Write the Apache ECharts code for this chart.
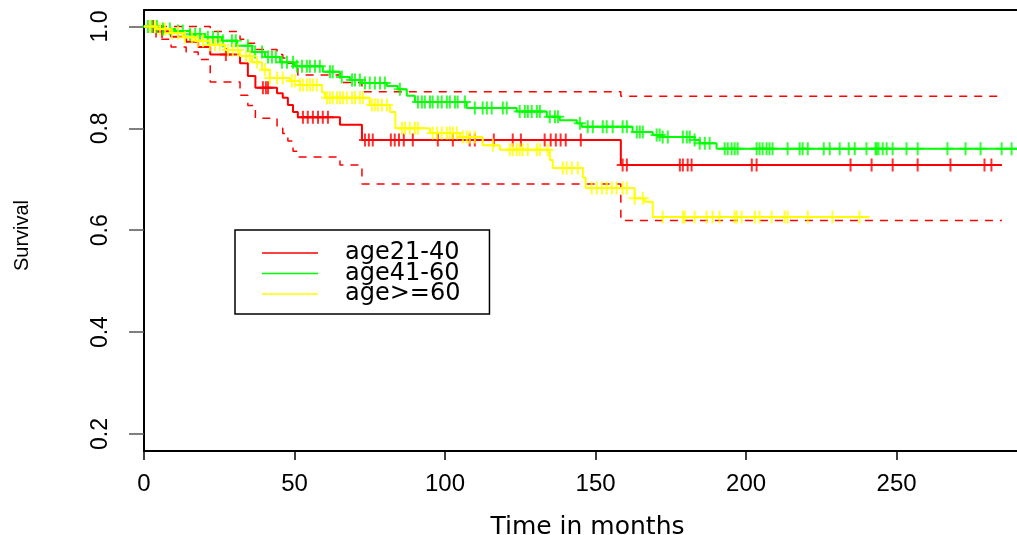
<!DOCTYPE html>
<html>
<head>
<meta charset="utf-8">
<script src="https://cdn.jsdelivr.net/npm/echarts@6/dist/echarts.min.js"></script>
<style>
html,body{margin:0;padding:0;background:#fff;}
#chart{width:1017px;height:535px;}
</style>
</head>
<body>
<div id="chart"></div>
<script>
// ---- data ----
var groupNames = ['age21-40', 'age41-60', 'age>=60'];
var xTicks = [0, 50, 100, 150, 200, 250];
var yTicks = [0.2, 0.4, 0.6, 0.8, 1.0];

// age21-40 (red): step times, survival, and 95% CI
var redTimes = [0, 4, 9, 14, 18, 22, 31.9, 34.5, 37, 44.2, 46.1, 47.8, 49.5, 51.1, 65.1, 72.4, 158.4, 285];
var redSurv  = [1, 0.99, 0.98, 0.97, 0.96, 0.945, 0.928, 0.903, 0.88, 0.869, 0.86, 0.846, 0.832, 0.822, 0.807, 0.777, 0.728, 0.728];
var redUpper = [1, 1, 1, 1, 1, 0.99, 0.975, 0.967, 0.955, 0.945, 0.938, 0.928, 0.918, 0.905, 0.89, 0.872, 0.863, 0.863];
var redLower = [1, 0.975, 0.96, 0.95, 0.935, 0.891, 0.865, 0.845, 0.82, 0.80, 0.79, 0.775, 0.755, 0.744, 0.728, 0.691, 0.619, 0.619];
var redCensor = [3, 6, 27.2, 39.5, 40.5, 41.2, 52.8, 54.4, 56.1, 57.8, 59.4, 61.1, 73.4, 74.7, 76.0, 82.0, 83.3, 84.7, 86.3, 89.3, 97.6, 102.6, 108.2, 109.9, 116.2, 122.5, 125.2, 133.1, 135.1, 136.8, 138.4, 140.1, 145.1, 159.0, 160.4, 178.0, 179.0, 180.6, 181.9, 201.9, 203.5, 234.7, 241.7, 248.7, 257.0, 267.9, 279.2, 281.5];

// age41-60 (green)
var greenTimes = [0, 5.3, 10.3, 15.3, 20.3, 25.9, 30.9, 35.9, 40.2, 45.2, 50.1, 59.4, 65.1, 68.4, 72.4, 80.7, 84.3, 87.3, 90, 107.2, 123.8, 133.8, 138.1, 143.8, 145.4, 162.3, 169, 172, 182.9, 184.6, 190.2, 292];
var greenSurv  = [1, 0.995, 0.991, 0.985, 0.979, 0.972, 0.962, 0.95, 0.94, 0.93, 0.922, 0.911, 0.901, 0.895, 0.889, 0.883, 0.877, 0.864, 0.852, 0.84, 0.833, 0.823, 0.816, 0.81, 0.803, 0.793, 0.787, 0.783, 0.777, 0.771, 0.76, 0.76];
var greenCensor = [1.3, 2.7, 4.3, 6.3, 8.6, 11.3, 12.9, 15.3, 17, 18.6, 21.2, 22.9, 24.6, 26.2, 29.2, 30.5, 34.5, 36.9, 39.2, 41.2, 42.5, 43.8, 45.8, 47.5, 49.5, 50.8, 52.5, 54.1, 55.1, 56.8, 58.4, 61.8, 62.7, 65.7, 69.1, 70.1, 71.7, 73.4, 75.0, 76.7, 78.4, 80.0, 85.0, 91.0, 92.3, 93.3, 95.0, 95.9, 97.6, 98.9, 100.6, 101.6, 103.3, 104.2, 106.6, 109.9, 112.5, 113.9, 115.5, 119.2, 120.5, 124.8, 126.5, 127.5, 128.8, 130.5, 131.5, 134.8, 136.5, 137.5, 144.8, 147.4, 149.1, 152.4, 153.7, 155.7, 159.0, 160.4, 163.7, 164.7, 165.7, 170.3, 171.3, 172.3, 174.0, 179.0, 180.3, 181.3, 182.9, 184.6, 186.3, 187.9, 192.9, 193.9, 195.2, 196.2, 197.2, 203.5, 204.5, 205.5, 206.8, 207.8, 208.8, 213.8, 217.8, 218.8, 220.5, 225.8, 227.8, 231.1, 234.1, 236.1, 240.0, 243.0, 243.4, 244.0, 245.4, 246.7, 248.7, 253.3, 257.0, 266.9, 272.9, 277.9, 284.9, 288.2];

// age>=60 (yellow)
var yellowTimes = [0, 4.3, 8.6, 12.9, 16.9, 21.9, 26.9, 31.9, 35.9, 39.2, 41.8, 48.5, 51.8, 59.1, 60.1, 75.0, 81.7, 83.5, 95.0, 104.9, 112.5, 118.2, 134.8, 135.8, 145.8, 146.7, 163.0, 166.3, 169.0, 241.0];
var yellowSurv  = [1, 0.995, 0.987, 0.979, 0.972, 0.964, 0.954, 0.942, 0.93, 0.915, 0.899, 0.893, 0.885, 0.871, 0.86, 0.846, 0.832, 0.80, 0.791, 0.783, 0.767, 0.758, 0.738, 0.722, 0.703, 0.683, 0.663, 0.656, 0.626, 0.626];
var yellowCensor = [2.0, 3.7, 5.3, 7.0, 9.3, 11.3, 13.6, 15.9, 17.9, 19.6, 21.9, 23.6, 25.2, 27.9, 29.5, 31.2, 33.9, 35.2, 37.5, 40.2, 41.8, 44.2, 46.1, 49.1, 50.1, 51.8, 52.8, 54.1, 55.1, 56.1, 57.4, 60.8, 61.8, 62.7, 64.1, 65.1, 66.1, 67.4, 69.1, 70.1, 71.7, 72.7, 75.7, 76.7, 77.7, 79.0, 80.7, 85.7, 86.7, 88.3, 90.0, 91.0, 95.9, 97.3, 98.9, 100.6, 101.6, 102.6, 103.9, 105.9, 107.2, 108.2, 109.9, 115.9, 121.5, 122.5, 123.8, 124.8, 125.8, 127.5, 130.5, 131.5, 134.1, 139.1, 140.4, 142.1, 144.1, 148.7, 150.4, 152.1, 153.7, 155.4, 157.0, 159.0, 160.4, 163.0, 165.7, 172.3, 179.0, 179.6, 182.9, 186.9, 188.9, 191.2, 196.2, 196.9, 198.5, 202.9, 204.5, 208.5, 212.8, 213.8, 220.5, 228.7, 237.7];

// ---- build series ----
function pairs(t, s) { return t.map(function (v, i) { return [v, s[i]]; }); }
// survival at a censoring time = value of the last step at or before it
function censorPoints(ct, t, s) {
  return ct.map(function (c) {
    var v = s[0];
    for (var i = 0; i < t.length; i++) { if (t[i] <= c) v = s[i]; }
    return [c, v];
  });
}
var plusPath = 'path://M5,0H7V5.5H12V7.5H7V13H5V7.5H0V5.5H5Z';
var colors = ['#ff0000', '#00ff00', '#ffff00'];

function kmLine(name, data, color, z) {
  return { name: name, type: 'line', step: 'end', data: data, showSymbol: false, symbol: 'none',
    lineStyle: { color: color, width: 2 }, itemStyle: { color: color }, z: z, silent: true };
}
function censor(name, data, color, z) {
  return { name: name, type: 'scatter', data: data, symbol: plusPath, symbolSize: [12, 13],
    itemStyle: { color: color }, z: z, silent: true };
}
function ci(name, data) {
  return { name: name, type: 'line', step: 'end', data: data, showSymbol: false, symbol: 'none',
    lineStyle: { color: '#ff0000', width: 1.5, type: [8, 7] }, z: 2, silent: true };
}

var labelFont = "'Liberation Sans', Arial, sans-serif";
var chart = echarts.init(document.getElementById('chart'), null, { renderer: 'canvas' });
chart.setOption({
  animation: false,
  backgroundColor: '#ffffff',
  grid: { left: 144, top: 10, right: 0, bottom: 84, containLabel: false, outerBoundsMode: 'none' },
  legend: {
    data: groupNames,
    orient: 'vertical',
    left: 235, top: 230,
    backgroundColor: '#ffffff',
    borderColor: '#000', borderWidth: 1.5,
    padding: [11, 29, 8, 27],
    itemGap: -3.5,
    itemWidth: 56, itemHeight: 1.5,
    icon: 'rect',
    textStyle: { fontFamily: 'DejaVu Sans', fontSize: 24, color: '#000', padding: [0, 0, 0, 22] }
  },
  xAxis: [{
    type: 'value', min: 0, max: 290,
    axisLine: { lineStyle: { color: '#000', width: 2 } },
    axisTick: { show: true, length: 9, lineStyle: { color: '#000', width: 1.5 }, customValues: xTicks },
    axisLabel: { customValues: xTicks, fontFamily: labelFont, fontSize: 24, color: '#000', margin: 21 },
    splitLine: { show: false },
    name: 'Time in months', nameLocation: 'middle', nameGap: 64,
    nameTextStyle: { fontFamily: 'DejaVu Sans', fontSize: 25, color: '#000', padding: [0, 0, 0, 14] }
  }, {
    type: 'value', min: 0, max: 290, position: 'top',
    axisLine: { show: true, lineStyle: { color: '#000', width: 2 } },
    axisTick: { show: false }, axisLabel: { show: false }, splitLine: { show: false }
  }],
  yAxis: {
    type: 'value', min: 0.1666, max: 1.0324,
    axisLine: { show: true, lineStyle: { color: '#000', width: 2 } },
    axisTick: { show: true, length: 15, lineStyle: { color: '#555', width: 1.5 }, customValues: yTicks },
    axisLabel: { customValues: yTicks, rotate: 90, margin: 32, fontFamily: labelFont, fontSize: 23, color: '#000',
      formatter: function (v) { return v.toFixed(1); } },
    splitLine: { show: false },
    name: 'Survival', nameLocation: 'middle', nameGap: 112, nameRotate: 90,
    nameTextStyle: { fontFamily: labelFont, fontSize: 20, color: '#000', padding: [0, 10, 0, 0] }
  },
  series: [
    ci('red upper', pairs(redTimes, redUpper)),
    ci('red lower', pairs(redTimes, redLower)),
    kmLine(groupNames[0], pairs(redTimes, redSurv), colors[0], 3),
    censor('red censor', censorPoints(redCensor, redTimes, redSurv), colors[0], 3),
    kmLine(groupNames[1], pairs(greenTimes, greenSurv), colors[1], 4),
    censor('green censor', censorPoints(greenCensor, greenTimes, greenSurv), colors[1], 4),
    kmLine(groupNames[2], pairs(yellowTimes, yellowSurv), colors[2], 5),
    censor('yellow censor', censorPoints(yellowCensor, yellowTimes, yellowSurv), colors[2], 5)
  ]
});
</script>
</body>
</html>
